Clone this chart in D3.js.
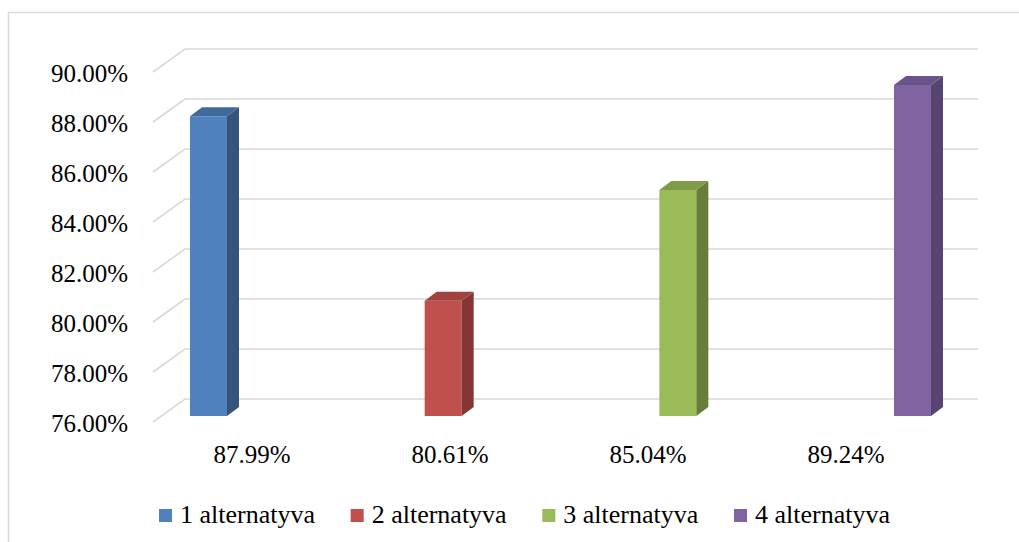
<!DOCTYPE html>
<html>
<head>
<meta charset="utf-8">
<script src="https://cdn.jsdelivr.net/npm/d3@7"></script>
<style>
    body { margin: 0; background: #fff; }
</style>
</head>
<body>
<svg id="chart" width="1019" height="542"></svg>
<script>
// chart data
const series = ["1 alternatyva", "2 alternatyva", "3 alternatyva", "4 alternatyva"];
const values = [87.99, 80.61, 85.04, 89.24];
const valueLabels = ["87.99%", "80.61%", "85.04%", "89.24%"];
const yTicks = [76, 78, 80, 82, 84, 86, 88, 90];
const faceColors = ["#4f81bd", "#c0504d", "#9bbb59", "#8064a2"];
const sideColors = ["#34547e", "#853634", "#677e3a", "#574471"];
const topColors = ["#406a9c", "#a0423f", "#7f9a48", "#6a5388"];

const font = "'Times New Roman', 'Liberation Serif', Times, 'DejaVu Serif', serif";

const svg = d3.select("#chart")
    .style("font-family", font);

// outer frame
svg.append("rect")
    .attr("x", 8.5).attr("y", 12.5)
    .attr("width", 1030).attr("height", 560)
    .attr("fill", "none")
    .attr("stroke", "#d9d9d9")
    .attr("stroke-width", 1.5);

// back wall scale, the front of the box is shifted by (-32, +23)
const y = d3.scaleLinear().domain([76, 90]).range([399, 49]);
const depthX = 32, depthY = 23;

// gridlines: diagonal on the side wall + horizontal on the back wall
const grid = svg.append("g").attr("stroke", "#d9d9d9").attr("stroke-width", 1.6).attr("fill", "none");
grid.selectAll("path")
    .data(yTicks)
    .enter().append("path")
    .attr("d", d => `M${185 - depthX},${y(d) + depthY}L185,${y(d)}L978,${y(d)}`);

// y labels
svg.selectAll(".ylabel")
    .data(yTicks)
    .enter().append("text")
    .attr("class", "ylabel")
    .attr("x", 128)
    .attr("y", d => y(d) + depthY + 9.5)
    .attr("text-anchor", "end")
    .attr("font-family", font)
    .attr("font-size", 25)
    .text(d => d.toFixed(2) + "%");

// bars
const xBar = d3.scalePoint().domain(series).range([190, 894]);
const barW = 37, barDx = 12, barDy = 9, barFront = 17;

const bars = svg.selectAll(".bar")
    .data(series.map((s, i) => ({ s, v: values[i], i })))
    .enter().append("g")
    .attr("class", "bar");

bars.append("rect")
    .attr("x", d => xBar(d.s))
    .attr("y", d => y(d.v) + barFront)
    .attr("width", barW)
    .attr("height", d => y(76) - y(d.v))
    .attr("fill", d => faceColors[d.i]);

bars.append("path")
    .attr("fill", d => sideColors[d.i])
    .attr("d", d => {
        const x1 = xBar(d.s) + barW, t = y(d.v) + barFront, b = y(76) + barFront;
        return `M${x1},${t}L${x1 + barDx},${t - barDy}L${x1 + barDx},${b - barDy}L${x1},${b}Z`;
    });

bars.append("path")
    .attr("fill", d => topColors[d.i])
    .attr("d", d => {
        const x0 = xBar(d.s), t = y(d.v) + barFront;
        return `M${x0},${t}L${x0 + barDx},${t - barDy}L${x0 + barW + barDx},${t - barDy}L${x0 + barW},${t}Z`;
    });

// category labels (values)
const xLabel = d3.scalePoint().domain(series).range([252, 846]);
svg.selectAll(".xlabel")
    .data(series)
    .enter().append("text")
    .attr("class", "xlabel")
    .attr("x", d => xLabel(d))
    .attr("y", 463)
    .attr("text-anchor", "middle")
    .attr("font-family", font)
    .attr("font-size", 25)
    .text((d, i) => valueLabels[i]);

// legend
const xLegend = d3.scalePoint().domain(series).range([159, 734]);
const legend = svg.selectAll(".legend")
    .data(series)
    .enter().append("g")
    .attr("class", "legend")
    .attr("transform", d => `translate(${xLegend(d)},509)`);

legend.append("rect")
    .attr("width", 13).attr("height", 13)
    .attr("fill", (d, i) => faceColors[i]);

legend.append("text")
    .attr("x", 21)
    .attr("y", 13.5)
    .attr("font-family", font)
    .attr("font-size", 26)
    .text(d => d);
</script>
</body>
</html>
